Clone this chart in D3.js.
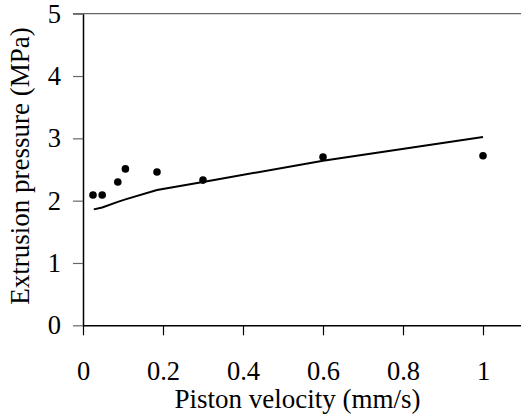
<!DOCTYPE html>
<html><head><meta charset="utf-8">
<script src="https://cdn.jsdelivr.net/npm/d3@7"></script>
<style>body{margin:0;background:#fff}svg{display:block}text{font-family:"Liberation Serif","Times New Roman",serif;fill:#000}</style>
</head><body><svg id="c" width="521" height="417"></svg>
<script>
const measX = [0.025, 0.048, 0.087, 0.106, 0.185, 0.30, 0.60, 1.00];
const measY = [2.09, 2.09, 2.30, 2.51, 2.46, 2.33, 2.70, 2.72];
const modelX = [0.027, 0.048, 0.087, 0.106, 0.185, 0.30, 0.60, 1.00];
const modelY = [1.86, 1.89, 1.98, 2.02, 2.17, 2.30, 2.64, 3.02];
const xTicks = [0, 0.2, 0.4, 0.6, 0.8, 1];
const yTicks = [0, 1, 2, 3, 4, 5];

const svg = d3.select("#c");
const x = d3.scaleLinear().domain([0, 1.095]).range([83, 521]);
const y = d3.scaleLinear().domain([0, 5]).range([325.3, 13.7]);

svg.append("line").attr("x1", 73).attr("x2", 521).attr("y1", y(5)).attr("y2", y(5))
  .attr("stroke", "#666").attr("stroke-width", 1.2);

const ya = svg.append("g").attr("transform", `translate(${x(0)},0)`)
  .call(d3.axisLeft(y).tickValues(yTicks).tickFormat(d3.format("d")).tickSize(10).tickSizeOuter(0));
ya.select(".domain").attr("stroke", "#000").attr("stroke-width", 1.5);
ya.selectAll(".tick line").attr("stroke", "#666").attr("stroke-width", 1.2);
ya.selectAll(".tick text").attr("x", -22);

const xa = svg.append("g").attr("transform", `translate(0,${y(0)})`)
  .call(d3.axisBottom(x).tickValues(xTicks).tickFormat(d => d === 0 || d === 1 ? d3.format("d")(d) : d3.format(".1f")(d)).tickSize(10).tickSizeOuter(0));
xa.select(".domain").attr("stroke", "#000").attr("stroke-width", 1.5);
xa.selectAll(".tick line").attr("stroke", "#000").attr("stroke-width", 1.2);
xa.selectAll(".tick text").attr("y", 54.5).attr("dy", null);
svg.selectAll("g").attr("font-family", "Liberation Serif").attr("font-size", 26.5);

const line = d3.line().x(d => x(d[0])).y(d => y(d[1]));
svg.append("path").datum(d3.zip(modelX, modelY)).attr("d", line)
  .attr("fill", "none").attr("stroke", "#000").attr("stroke-width", 2);

svg.selectAll("circle.m").data(d3.zip(measX, measY)).enter().append("circle")
  .attr("cx", d => x(d[0])).attr("cy", d => y(d[1])).attr("r", 3.8).attr("fill", "#000");

svg.append("text").attr("x", 297.5).attr("y", 408).attr("text-anchor", "middle")
  .attr("font-size", 27).text("Piston velocity (mm/s)");
svg.append("text").attr("transform", "translate(29,166) rotate(-90)").attr("text-anchor", "middle")
  .attr("font-size", 27).text("Extrusion pressure (MPa)");
</script></body></html>
